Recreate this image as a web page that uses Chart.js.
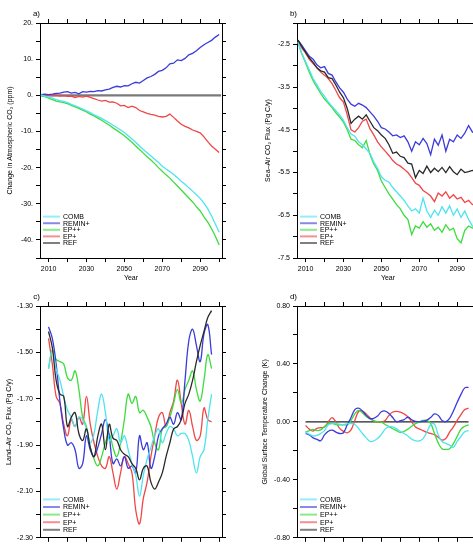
<!DOCTYPE html>
<html>
<head>
<meta charset="utf-8">
<script src="https://cdn.jsdelivr.net/npm/chart.js@4.4.1/dist/chart.umd.min.js"></script>
<style>
  html, body { margin: 0; padding: 0; background: #fff; overflow: hidden; width: 473px; height: 545px; }
  canvas { position: absolute; }
</style>
</head>
<body>
<canvas id="pa" width="236" height="285" style="left:0px;top:0px"></canvas>
<canvas id="pb" width="260" height="285" style="left:236px;top:0px"></canvas>
<canvas id="pc" width="236" height="273" style="left:0px;top:272px"></canvas>
<canvas id="pd" width="260" height="273" style="left:236px;top:272px"></canvas>
<script>
// --- data ---
const yearsAB = [2006,2008,2010,2012,2014,2016,2018,2020,2022,2024,2026,2028,2030,2032,2034,2036,2038,2040,2042,2044,2046,2048,2050,2052,2054,2056,2058,2060,2062,2064,2066,2068,2070,2072,2074,2076,2078,2080,2082,2084,2086,2088,2090,2092,2094,2096,2098,2100];
const yearsCD = [2010,2012,2014,2016,2018,2020,2022,2024,2026,2028,2030,2032,2034,2036,2038,2040,2042,2044,2046,2048,2050,2052,2054,2056,2058,2060,2062,2064,2066,2068,2070,2072,2074,2076,2078,2080,2082,2084,2086,2088,2090,2092,2094,2096];

// a) change in atmospheric CO2 (ppm), relative to REF
const combA  = [0.1,-0.2,-0.5,-0.8,-1.2,-1.5,-1.7,-2.0,-2.5,-2.9,-3.3,-3.8,-4.3,-4.8,-5.4,-5.9,-6.4,-7.0,-7.6,-8.3,-8.9,-9.6,-10.3,-11.2,-12.1,-13.0,-14.0,-15.0,-15.9,-16.8,-17.7,-18.6,-19.6,-20.4,-21.1,-21.9,-22.8,-23.8,-24.6,-25.6,-26.5,-27.5,-28.5,-29.8,-31.4,-33.4,-35.6,-37.9];
const reminA = [0.2,0.3,0.2,0.3,0.5,0.6,0.9,1.0,0.6,0.8,0.4,1.0,0.9,1.1,1.0,1.3,1.2,1.5,1.7,2.2,2.5,2.3,2.7,2.6,3.2,3.6,3.4,4.1,4.8,5.2,5.8,6.6,6.9,7.6,8.7,8.9,9.8,9.6,10.2,11.2,11.6,12.3,13.2,14.0,14.6,15.2,16.1,16.8];
const eppA   = [0.0,-0.4,-0.8,-1.2,-1.6,-1.8,-2.0,-2.3,-2.8,-3.2,-3.6,-4.1,-4.6,-5.2,-5.7,-6.3,-6.9,-7.6,-8.2,-9.0,-9.7,-10.4,-11.2,-12.1,-13.0,-14.0,-15.0,-16.0,-17.0,-17.9,-18.9,-20.0,-21.0,-22.0,-22.9,-24.0,-25.1,-26.2,-27.3,-28.4,-29.5,-30.8,-32.0,-33.6,-35.1,-36.9,-39.0,-41.4];
const epA    = [0.2,0.1,0.0,-0.1,0.0,-0.2,-0.1,-0.3,-0.2,-0.6,-0.3,-0.5,-0.2,-0.6,-0.9,-1.3,-1.6,-1.4,-1.9,-1.8,-2.2,-2.9,-2.8,-3.4,-3.0,-3.4,-4.2,-4.6,-5.0,-5.3,-5.5,-5.8,-6.0,-5.8,-5.2,-6.1,-7.1,-8.0,-8.6,-9.0,-9.6,-10.0,-10.4,-11.5,-12.8,-14.0,-14.9,-15.8];
const refYearsA = [2006, 2101];
const refA   = [0, 0];

// b) sea-air CO2 flux (Pg C/y)
const combB  = [-2.45,-2.70,-2.90,-3.10,-3.30,-3.45,-3.60,-3.72,-3.85,-3.95,-4.05,-4.15,-4.28,-4.45,-4.60,-4.65,-4.78,-4.85,-4.95,-5.05,-5.25,-5.40,-5.60,-5.68,-5.72,-5.85,-5.95,-6.05,-6.15,-6.28,-6.40,-6.35,-6.45,-6.10,-6.40,-6.55,-6.38,-6.50,-6.30,-6.45,-6.28,-6.50,-6.35,-6.55,-6.40,-6.60,-6.75,-6.80];
const reminB = [-2.40,-2.52,-2.65,-2.78,-2.85,-2.98,-3.05,-3.02,-3.18,-3.22,-3.38,-3.52,-3.62,-3.78,-3.90,-3.95,-3.88,-3.92,-3.98,-4.08,-4.18,-4.30,-4.45,-4.48,-4.55,-4.64,-4.62,-4.68,-4.64,-4.78,-5.00,-4.78,-4.85,-4.70,-4.82,-5.08,-4.72,-4.86,-4.62,-5.00,-4.72,-4.78,-4.62,-4.70,-4.58,-4.40,-4.55,-4.60];
const eppB   = [-2.45,-2.72,-2.93,-3.15,-3.35,-3.50,-3.65,-3.78,-3.88,-3.98,-4.10,-4.20,-4.32,-4.50,-4.72,-4.75,-4.85,-4.92,-4.75,-5.08,-5.30,-5.45,-5.70,-5.85,-6.00,-6.12,-6.25,-6.35,-6.50,-6.60,-6.95,-6.75,-6.80,-6.65,-6.78,-6.70,-6.85,-6.78,-6.90,-6.72,-6.85,-6.80,-7.05,-7.15,-6.85,-6.75,-6.80,-6.78];
const epB    = [-2.42,-2.58,-2.70,-2.85,-2.95,-3.05,-3.15,-3.22,-3.30,-3.42,-3.58,-3.75,-3.85,-4.15,-4.50,-4.55,-4.45,-4.30,-4.25,-4.48,-4.62,-4.78,-4.90,-5.00,-5.10,-5.22,-5.30,-5.35,-5.42,-5.50,-5.62,-5.75,-5.80,-5.92,-5.98,-6.05,-6.18,-5.98,-6.05,-5.95,-6.10,-6.02,-6.12,-6.08,-6.20,-6.15,-6.25,-6.22];
const refB   = [-2.40,-2.55,-2.68,-2.82,-2.92,-3.05,-3.12,-3.15,-3.28,-3.30,-3.45,-3.62,-3.75,-4.00,-4.35,-4.25,-4.18,-4.25,-4.15,-4.30,-4.45,-4.52,-4.62,-4.70,-4.85,-5.05,-5.02,-5.12,-5.15,-5.28,-5.30,-5.62,-5.45,-5.52,-5.35,-5.50,-5.40,-5.48,-5.38,-5.50,-5.36,-5.48,-5.55,-5.42,-5.50,-5.48,-5.45,-5.48];

// c) land-air CO2 flux (Pg C/y), smoothed
const combC  = [-1.57,-1.49,-1.57,-1.62,-1.69,-1.75,-1.78,-1.82,-1.78,-1.79,-1.83,-1.89,-1.85,-1.75,-1.68,-1.76,-1.88,-1.86,-1.83,-1.89,-1.86,-1.92,-1.98,-2.03,-2.12,-2.03,-1.96,-1.91,-1.86,-1.83,-1.89,-1.85,-1.82,-1.83,-1.86,-1.85,-1.85,-1.88,-1.95,-2.02,-1.95,-1.92,-1.79,-1.68];
const reminC = [-1.39,-1.44,-1.55,-1.71,-1.83,-1.90,-1.89,-1.92,-2.00,-1.98,-1.86,-1.92,-1.95,-1.91,-1.85,-1.79,-1.86,-1.98,-1.96,-1.99,-1.95,-2.00,-1.99,-2.02,-1.86,-1.92,-1.89,-2.00,-1.95,-1.86,-1.83,-1.81,-1.78,-1.81,-1.76,-1.79,-1.62,-1.45,-1.40,-1.47,-1.54,-1.42,-1.38,-1.51];
const eppC   = [-1.57,-1.49,-1.53,-1.54,-1.55,-1.61,-1.62,-1.58,-1.66,-1.78,-1.82,-1.91,-1.96,-1.99,-1.95,-1.89,-1.85,-1.91,-1.95,-1.89,-1.79,-1.68,-1.72,-1.69,-1.76,-1.75,-1.78,-1.82,-1.89,-1.92,-1.83,-1.82,-1.78,-1.72,-1.66,-1.72,-1.66,-1.62,-1.58,-1.66,-1.71,-1.62,-1.51,-1.57];
const epC    = [-1.44,-1.55,-1.69,-1.72,-1.81,-1.86,-1.79,-1.82,-1.78,-1.81,-1.69,-1.81,-1.89,-1.95,-1.99,-2.00,-1.95,-2.02,-2.09,-2.02,-1.95,-1.98,-2.02,-2.18,-2.24,-2.13,-2.06,-1.95,-1.86,-1.78,-1.76,-1.82,-1.76,-1.71,-1.62,-1.72,-1.81,-1.75,-1.82,-1.88,-1.86,-1.74,-1.79,-1.80];
const refC   = [-1.41,-1.48,-1.62,-1.68,-1.69,-1.82,-1.78,-1.76,-1.85,-1.88,-1.83,-1.91,-1.95,-1.86,-1.81,-1.92,-1.81,-1.87,-1.88,-1.92,-1.94,-1.95,-1.98,-2.00,-2.05,-2.00,-1.99,-2.06,-2.09,-2.06,-2.02,-1.95,-1.89,-1.83,-1.82,-1.79,-1.72,-1.68,-1.62,-1.54,-1.47,-1.41,-1.35,-1.32];

// d) global surface temperature change (K), smoothed, relative to REF
const combD  = [-0.07,-0.085,-0.097,-0.093,-0.08,-0.06,-0.02,-0.012,-0.011,-0.016,-0.018,-0.012,-0.012,-0.018,-0.045,-0.08,-0.11,-0.135,-0.13,-0.115,-0.086,-0.05,-0.032,-0.035,-0.048,-0.065,-0.08,-0.098,-0.12,-0.13,-0.131,-0.115,-0.07,-0.02,-0.015,-0.09,-0.135,-0.148,-0.16,-0.175,-0.135,-0.1,-0.068,-0.06];
const reminD = [-0.08,-0.09,-0.11,-0.12,-0.13,-0.09,-0.065,-0.057,-0.07,-0.08,-0.075,-0.02,0.03,0.085,0.095,0.075,0.045,0.023,0.025,0.04,0.07,0.075,0.058,0.03,0.002,0.008,0.016,0.032,0.015,0.003,0.0,0.005,0.012,0.03,0.055,0.045,0.01,0.002,0.025,0.075,0.135,0.19,0.235,0.238];
const eppD   = [-0.07,-0.06,-0.052,-0.06,-0.055,-0.032,-0.012,-0.01,-0.018,-0.02,-0.02,-0.02,0.01,0.055,0.079,0.062,0.038,0.02,0.007,0.0,-0.002,-0.018,-0.033,-0.047,-0.06,-0.073,-0.065,-0.05,-0.03,-0.012,0.0,0.01,0.01,-0.01,-0.08,-0.145,-0.185,-0.19,-0.185,-0.15,-0.1,-0.05,-0.03,-0.02];
const epD    = [-0.025,-0.05,-0.063,-0.045,-0.04,-0.035,0.0,0.03,0.0,-0.045,-0.065,-0.075,-0.055,0.01,0.072,0.075,0.055,0.028,0.008,0.0,-0.002,0.01,0.045,0.068,0.073,0.068,0.055,0.035,0.0,-0.035,-0.048,-0.06,-0.073,-0.08,-0.088,-0.105,-0.125,-0.115,-0.07,-0.035,0.01,0.05,0.085,0.095];
const refYearsD = [2010, 2096];
const refD   = [0, 0];

// axis ticks and labels
const xTicks  = [2010,2020,2030,2040,2050,2060,2070,2080,2090,2100];
const xLabels = ['2010','','2030','','2050','','2070','','2090',''];
const yTicksA  = [-45,-40,-35,-30,-25,-20,-15,-10,-5,0,5,10,15,20];
const yLabelsA = ['','-40.','','-30.','','-20.','','-10.','','0.','','10.','','20.'];
const yTicksB  = [-7.5,-7.0,-6.5,-6.0,-5.5,-5.0,-4.5,-4.0,-3.5,-3.0,-2.5,-2.0];
const yLabelsB = ['-7.5','','-6.5','','-5.5','','-4.5','','-3.5','','-2.5',''];
const yTicksC  = [-2.3,-2.2,-2.1,-2.0,-1.9,-1.8,-1.7,-1.6,-1.5,-1.4,-1.3];
const yLabelsC = ['-2.30','','-2.10','','-1.90','','-1.70','','-1.50','','-1.30'];
const yTicksD  = [-0.8,-0.6,-0.4,-0.2,0.0,0.2,0.4,0.6,0.8];
const yLabelsD = ['-0.80','','-0.40','','0.00','','0.40','','0.80'];

const legendNames  = ['COMB','REMIN+','EP++','EP+','REF'];
const legendColors = ['#4fe3ef','#3b3bdb','#3ddc3d','#f04646','#2a2a2a'];

const FONT = '"Liberation Sans", Arial, Helvetica, sans-serif';
Chart.defaults.font.family = FONT;
Chart.defaults.color = '#000';

function pts(xs, ys) { return xs.map((x, i) => ({ x: x, y: ys[i] })); }

function series(i, xs, ys, extra) {
  return Object.assign({
    label: legendNames[i],
    data: pts(xs, ys),
    borderColor: legendColors[i],
    borderWidth: 1.3,
    pointRadius: 0,
    fill: false,
    tension: 0
  }, extra || {});
}

function fixed(vals) { return s => { s.ticks = vals.map(v => ({ value: v })); }; }

function axis(pos, min, max, ticks, labels, size, title, titlePad) {
  const horiz = pos === 'top' || pos === 'bottom';
  return {
    type: 'linear',
    position: pos,
    min: min,
    max: max,
    afterBuildTicks: fixed(ticks),
    afterFit: s => { if (horiz) s.height = size; else s.width = size; },
    grid: { drawOnChartArea: false, drawTicks: true, tickLength: 4, color: '#000', lineWidth: 1 },
    border: { display: true, color: '#000', width: 1 },
    ticks: {
      display: !!labels,
      autoSkip: false,
      maxRotation: 0,
      padding: 3,
      font: { size: 7 },
      color: '#000',
      callback: (v, i) => labels ? labels[i] : ''
    },
    title: {
      display: !!title,
      text: title || '',
      font: { size: 7 },
      color: '#000',
      padding: horiz ? { top: 0, bottom: titlePad } : { top: titlePad, bottom: 0 }
    }
  };
}

const decor = {
  id: 'decor',
  afterDraw(chart, args, o) {
    const ctx = chart.ctx, a = chart.chartArea;
    ctx.save();
    ctx.fillStyle = '#000';
    ctx.font = '8px ' + FONT;
    ctx.textAlign = 'right';
    ctx.textBaseline = 'alphabetic';
    ctx.fillText(o.tag, a.left, a.top - 7);
    ctx.font = '7px ' + FONT;
    ctx.textAlign = 'left';
    ctx.textBaseline = 'middle';
    legendNames.forEach((n, i) => {
      const y = a.bottom - o.legBottom - (legendNames.length - 1 - i) * o.legStep;
      ctx.globalAlpha = 0.6;
      ctx.strokeStyle = legendColors[i];
      ctx.lineWidth = 2;
      ctx.beginPath();
      ctx.moveTo(a.left + 3, y);
      ctx.lineTo(a.left + 20, y);
      ctx.stroke();
      ctx.globalAlpha = 1;
      ctx.fillStyle = '#000';
      ctx.fillText(n, a.left + 23, y + 0.5);
    });
    ctx.restore();
  }
};

function panel(id, p) {
  new Chart(document.getElementById(id), {
    type: 'line',
    data: { datasets: p.datasets },
    options: {
      responsive: false,
      animation: false,
      events: [],
      layout: { padding: 0 },
      plugins: {
        legend: { display: false },
        tooltip: { enabled: false },
        decor: { tag: p.tag, legBottom: p.legBottom, legStep: p.legStep }
      },
      scales: {
        x:  axis('bottom', 2005.5, 2101.5, xTicks, p.showYear ? xLabels : null, p.bottom, p.showYear ? 'Year' : null, 3),
        x2: axis('top', 2005.5, 2101.5, xTicks, null, p.top, null, 0),
        y:  axis('left', p.ymin, p.ymax, p.yTicks, p.yLabels, p.left, p.yTitle, p.yTitlePad),
        y2: axis('right', p.ymin, p.ymax, p.yTicks, null, p.right, null, 0)
      }
    },
    plugins: [decor]
  });
}

panel('pa', {
  tag: 'a)', showYear: true, top: 23, bottom: 27, left: 40, right: 14,
  ymin: -45, ymax: 20, yTicks: yTicksA, yLabels: yLabelsA,
  yTitle: 'Change in Atmospheric CO\u2082 (ppm)', yTitlePad: 6,
  legBottom: 15, legStep: 6.6,
  datasets: [
    series(0, yearsAB, combA),
    series(1, yearsAB, reminA),
    series(2, yearsAB, eppA),
    series(3, yearsAB, epA),
    series(4, refYearsA, refA, { borderColor: '#7a7a7a', borderWidth: 2.2 })
  ]
});

panel('pb', {
  tag: 'b)', showYear: true, top: 23, bottom: 27, left: 61, right: 17,
  ymin: -7.5, ymax: -2.0, yTicks: yTicksB, yLabels: yLabelsB,
  yTitle: 'Sea\u2013Air CO\u2082 Flux (Pg C/y)', yTitlePad: 28,
  legBottom: 15, legStep: 6.6,
  datasets: [
    series(4, yearsAB, refB),
    series(0, yearsAB, combB),
    series(1, yearsAB, reminB),
    series(2, yearsAB, eppB),
    series(3, yearsAB, epB)
  ]
});

panel('pc', {
  tag: 'c)', showYear: false, top: 34, bottom: 4, left: 40, right: 14,
  ymin: -2.3, ymax: -1.3, yTicks: yTicksC, yLabels: yLabelsC,
  yTitle: 'Land\u2013Air CO\u2082 Flux (Pg C/y)', yTitlePad: 5,
  legBottom: 8, legStep: 7.6,
  datasets: [
    series(4, yearsCD, refC, { tension: 0.4 }),
    series(0, yearsCD, combC, { tension: 0.4 }),
    series(1, yearsCD, reminC, { tension: 0.4 }),
    series(2, yearsCD, eppC, { tension: 0.4 }),
    series(3, yearsCD, epC, { tension: 0.4 })
  ]
});

panel('pd', {
  tag: 'd)', showYear: false, top: 34, bottom: 4, left: 61, right: 17,
  ymin: -0.8, ymax: 0.8, yTicks: yTicksD, yLabels: yLabelsD,
  yTitle: 'Global Surface Temperature Change (K)', yTitlePad: 25,
  legBottom: 8, legStep: 7.6,
  datasets: [
    series(0, yearsCD, combD, { tension: 0.4 }),
    series(1, yearsCD, reminD, { tension: 0.4 }),
    series(2, yearsCD, eppD, { tension: 0.4 }),
    series(3, yearsCD, epD, { tension: 0.4 }),
    series(4, refYearsD, refD, { borderColor: '#222', borderWidth: 1.2 })
  ]
});
</script>
</body>
</html>
